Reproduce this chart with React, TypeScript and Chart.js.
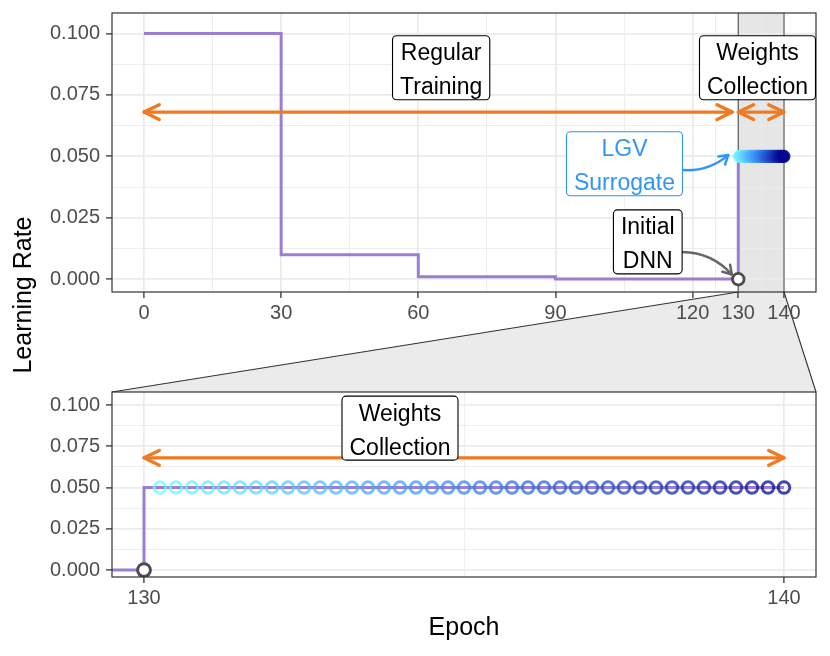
import React, { useEffect, useRef } from 'react';
import { Chart, registerables } from 'chart.js';
Chart.register(...registerables);

const FONT = '"Liberation Sans", Arial, Helvetica, sans-serif';

// ---- data ----
const epochs = [0, 30, 60, 90, 130, 140];
const learningRates = [0.1, 0.01, 0.001, 0.0001, 0.05, 0.05];
const lgvEpochs = [
  130.25, 130.5, 130.75, 131, 131.25, 131.5, 131.75, 132, 132.25, 132.5,
  132.75, 133, 133.25, 133.5, 133.75, 134, 134.25, 134.5, 134.75, 135,
  135.25, 135.5, 135.75, 136, 136.25, 136.5, 136.75, 137, 137.25, 137.5,
  137.75, 138, 138.25, 138.5, 138.75, 139, 139.25, 139.5, 139.75, 140,
];
const lgvRates = [
  0.05, 0.05, 0.05, 0.05, 0.05, 0.05, 0.05, 0.05, 0.05, 0.05,
  0.05, 0.05, 0.05, 0.05, 0.05, 0.05, 0.05, 0.05, 0.05, 0.05,
  0.05, 0.05, 0.05, 0.05, 0.05, 0.05, 0.05, 0.05, 0.05, 0.05,
  0.05, 0.05, 0.05, 0.05, 0.05, 0.05, 0.05, 0.05, 0.05, 0.05,
];
const initialEpoch = [130];
const initialRate = [0];

// ---- ticks ----
const topXMajor = [0, 30, 60, 90, 120, 130, 140];
const topXMinor = [15, 45, 75, 105, 125, 135];
const bottomXMajor = [130, 140];
const bottomXMinor = [135];
const yMajor = [0, 0.025, 0.05, 0.075, 0.1];
const yMajorLabels = ['0.000', '0.025', '0.050', '0.075', '0.100'];
const yMinor = [0.0125, 0.0375, 0.0625, 0.0875];

// ---- annotations ----
const topLabels = [
  { lines: ['Regular', 'Training'], x: 65, y: 0.086, color: '#000000' },
  { lines: ['Weights', 'Collection'], x: 134.2, y: 0.086, color: '#000000' },
  { lines: ['LGV', 'Surrogate'], x: 105.1, y: 0.047, color: '#2F95F8' },
  { lines: ['Initial', 'DNN'], x: 110.2, y: 0.0152, color: '#000000' },
];
const bottomLabels = [
  { lines: ['Weights', 'Collection'], x: 134.0, y: 0.086, color: '#000000' },
];
const topArrows = [
  { x1: 0, x2: 128.7, y: 0.068 },
  { x1: 130, x2: 140, y: 0.068 },
];
const bottomArrows = [{ x1: 130, x2: 140, y: 0.068 }];
const curvedArrows = [
  { x1: 117.9, y1: 0.0444, x2: 127.8, y2: 0.0505, k: 0.2, color: '#2F95F8' },
  { x1: 117.7, y1: 0.0111, x2: 128.6, y2: 0.0019, k: -0.22, color: '#666666' },
];

const ORANGE = '#EF7A22';
const PURPLE = '#9A7ED2';
const LGV_STOPS = [
  [115, 250, 255],
  [55, 130, 245],
  [5, 5, 145],
];

function lgvColor(t: number, a: number) {
  const seg = t < 0.5 ? 0 : 1;
  const lt = t < 0.5 ? t * 2 : (t - 0.5) * 2;
  const c0 = LGV_STOPS[seg];
  const c1 = LGV_STOPS[seg + 1];
  const c = c0.map((v, i) => Math.round(v + (c1[i] - v) * lt));
  return `rgba(${c[0]},${c[1]},${c[2]},${a})`;
}

function xy(xs: number[], ys: number[]) {
  return xs.map((x, i) => ({ x, y: ys[i] }));
}

function isIn(list: number[], v: any) {
  return typeof v === 'number' && list.some((m) => Math.abs(m - v) < 1e-9);
}

function xScale(min: number, max: number, major: number[], minor: number[]) {
  const all = [...major, ...minor].sort((a, b) => a - b);
  return {
    type: 'linear',
    min,
    max,
    afterBuildTicks: (s: any) => {
      s.ticks = all.map((v) => ({ value: v }));
    },
    afterFit: (s: any) => {
      s.height = 40;
      s.paddingLeft = 0;
      s.paddingRight = 0;
    },
    ticks: {
      autoSkip: false,
      maxRotation: 0,
      minRotation: 0,
      padding: 3,
      color: '#4D4D4D',
      font: { family: FONT, size: 20 },
      callback: (v: any) => (isIn(major, v) ? String(v) : ''),
    },
    grid: {
      color: '#EBEBEB',
      lineWidth: (c: any) => (isIn(major, c.tick?.value) ? 1.8 : 0.9),
      tickLength: 6,
      tickWidth: 1.3,
      tickColor: (c: any) => (isIn(major, c.tick?.value) ? '#333333' : 'rgba(0,0,0,0)'),
    },
    border: { display: false },
  };
}

function yScale(min: number, max: number) {
  const all = [...yMajor, ...yMinor].sort((a, b) => a - b);
  return {
    type: 'linear',
    min,
    max,
    afterBuildTicks: (s: any) => {
      s.ticks = all.map((v) => ({ value: v }));
    },
    afterFit: (s: any) => {
      s.width = 112;
      s.paddingTop = 0;
      s.paddingBottom = 0;
    },
    ticks: {
      autoSkip: false,
      padding: 6,
      color: '#4D4D4D',
      font: { family: FONT, size: 20 },
      callback: (v: any) => {
        const i = yMajor.findIndex((m) => Math.abs(m - v) < 1e-9);
        return i >= 0 ? yMajorLabels[i] : '';
      },
    },
    grid: {
      color: '#EBEBEB',
      lineWidth: (c: any) => (isIn(yMajor, c.tick?.value) ? 1.8 : 0.9),
      tickLength: 6,
      tickWidth: 1.3,
      tickColor: (c: any) => (isIn(yMajor, c.tick?.value) ? '#333333' : 'rgba(0,0,0,0)'),
    },
    border: { display: false },
  };
}

function drawHead(ctx: CanvasRenderingContext2D, tx: number, ty: number, ang: number, len: number, spread: number) {
  ctx.beginPath();
  ctx.moveTo(tx - len * Math.cos(ang - spread), ty - len * Math.sin(ang - spread));
  ctx.lineTo(tx, ty);
  ctx.lineTo(tx - len * Math.cos(ang + spread), ty - len * Math.sin(ang + spread));
  ctx.stroke();
}

function drawDoubleArrow(chart: any, a: { x1: number; x2: number; y: number }) {
  const ctx = chart.ctx as CanvasRenderingContext2D;
  const xs = chart.scales.x;
  const ys = chart.scales.y;
  const p1 = xs.getPixelForValue(a.x1);
  const p2 = xs.getPixelForValue(a.x2);
  const py = ys.getPixelForValue(a.y);
  ctx.save();
  ctx.strokeStyle = ORANGE;
  ctx.lineWidth = 3.3;
  ctx.lineCap = 'round';
  ctx.lineJoin = 'round';
  ctx.beginPath();
  ctx.moveTo(p1, py);
  ctx.lineTo(p2, py);
  ctx.stroke();
  drawHead(ctx, p1, py, Math.PI, 17, 0.45);
  drawHead(ctx, p2, py, 0, 17, 0.45);
  ctx.restore();
}

function drawCurved(chart: any, a: any) {
  const ctx = chart.ctx as CanvasRenderingContext2D;
  const xs = chart.scales.x;
  const ys = chart.scales.y;
  const ax = xs.getPixelForValue(a.x1);
  const ay = ys.getPixelForValue(a.y1);
  const bx = xs.getPixelForValue(a.x2);
  const by = ys.getPixelForValue(a.y2);
  const dx = bx - ax;
  const dy = by - ay;
  const L = Math.hypot(dx, dy);
  const nx = -dy / L;
  const ny = dx / L;
  const cx = (ax + bx) / 2 + nx * a.k * L;
  const cy = (ay + by) / 2 + ny * a.k * L;
  ctx.save();
  ctx.strokeStyle = a.color;
  ctx.lineWidth = 2.5;
  ctx.lineCap = 'round';
  ctx.lineJoin = 'round';
  ctx.beginPath();
  ctx.moveTo(ax, ay);
  ctx.quadraticCurveTo(cx, cy, bx, by);
  ctx.stroke();
  drawHead(ctx, bx, by, Math.atan2(by - cy, bx - cx), 10, 0.55);
  ctx.restore();
}

function drawLabel(chart: any, l: any) {
  const ctx = chart.ctx as CanvasRenderingContext2D;
  const cx = chart.scales.x.getPixelForValue(l.x);
  const cy = chart.scales.y.getPixelForValue(l.y);
  ctx.save();
  ctx.font = `23px ${FONT}`;
  const w = Math.max(...l.lines.map((s: string) => ctx.measureText(s).width)) + 15;
  const h = 64;
  ctx.beginPath();
  (ctx as any).roundRect(cx - w / 2, cy - h / 2, w, h, 4);
  ctx.fillStyle = '#ffffff';
  ctx.fill();
  ctx.strokeStyle = l.color;
  ctx.lineWidth = 1.1;
  ctx.stroke();
  ctx.fillStyle = l.color;
  ctx.textAlign = 'center';
  ctx.textBaseline = 'alphabetic';
  ctx.fillText(l.lines[0], cx, cy - 7.5);
  ctx.fillText(l.lines[1], cx, cy + 26.5);
  ctx.restore();
}

function drawPanelBorder(chart: any) {
  const ctx = chart.ctx as CanvasRenderingContext2D;
  const a = chart.chartArea;
  ctx.save();
  ctx.strokeStyle = '#333333';
  ctx.lineWidth = 1.2;
  ctx.strokeRect(a.left, a.top, a.right - a.left, a.bottom - a.top);
  ctx.restore();
}

function lineDataset() {
  return {
    label: 'Learning rate',
    data: xy(epochs, learningRates),
    showLine: true,
    stepped: 'before',
    borderColor: PURPLE,
    borderWidth: 3,
    pointRadius: 0,
    order: 3,
  };
}

function initialDataset(r: number, bw: number) {
  return {
    label: 'Initial DNN',
    data: xy(initialEpoch, initialRate),
    pointRadius: r,
    pointBorderWidth: bw,
    pointBorderColor: '#4D4D4D',
    pointBackgroundColor: '#ffffff',
    order: 1,
  };
}

function makeTopConfig(): any {
  const n = lgvEpochs.length;
  return {
    type: 'scatter',
    data: {
      datasets: [
        lineDataset(),
        {
          label: 'LGV',
          data: xy(lgvEpochs, lgvRates),
          pointRadius: 6.5,
          pointBorderWidth: 0,
          pointBackgroundColor: lgvEpochs.map((_, i) => lgvColor(i / (n - 1), 0.85)),
          order: 2,
        },
        initialDataset(5.8, 2.8),
      ],
    },
    options: {
      animation: false,
      responsive: false,
      events: [],
      layout: { padding: { top: 13, right: 14, bottom: 324, left: 0 } },
      plugins: { legend: { display: false }, tooltip: { enabled: false } },
      scales: { x: xScale(-7, 147, topXMajor, topXMinor), y: yScale(-0.0052, 0.1083) },
    },
    plugins: [
      {
        id: 'topDecor',
        beforeDraw(chart: any) {
          const ctx = chart.ctx;
          const a = chart.chartArea;
          const x1 = chart.scales.x.getPixelForValue(130);
          const x2 = chart.scales.x.getPixelForValue(140);
          ctx.save();
          ctx.fillStyle = '#E6E6E6';
          ctx.fillRect(x1, a.top, x2 - x1, a.bottom - a.top);
          ctx.restore();
        },
        beforeDatasetsDraw(chart: any) {
          const ctx = chart.ctx;
          const a = chart.chartArea;
          ctx.save();
          ctx.strokeStyle = '#555555';
          ctx.lineWidth = 1.1;
          [130, 140].forEach((v) => {
            const px = chart.scales.x.getPixelForValue(v);
            ctx.beginPath();
            ctx.moveTo(px, a.top);
            ctx.lineTo(px, a.bottom);
            ctx.stroke();
          });
          ctx.restore();
        },
        afterDatasetsDraw(chart: any) {
          drawPanelBorder(chart);
          topArrows.forEach((a) => drawDoubleArrow(chart, a));
          curvedArrows.forEach((a) => drawCurved(chart, a));
          topLabels.forEach((l) => drawLabel(chart, l));
        },
      },
    ],
  };
}

function makeBottomConfig(top: any): any {
  const n = lgvEpochs.length;
  return {
    type: 'scatter',
    data: {
      datasets: [
        lineDataset(),
        {
          label: 'LGV',
          data: xy(lgvEpochs, lgvRates),
          pointRadius: 5.8,
          pointBorderWidth: 3,
          pointBackgroundColor: 'rgba(0,0,0,0)',
          pointBorderColor: lgvEpochs.map((_, i) => lgvColor(i / (n - 1), 0.75)),
          order: 2,
        },
        initialDataset(6.4, 3),
      ],
    },
    options: {
      animation: false,
      responsive: false,
      events: [],
      layout: { padding: { top: 392, right: 14, bottom: 39, left: 0 } },
      plugins: { legend: { display: false }, tooltip: { enabled: false } },
      scales: { x: xScale(129.5, 140.5, bottomXMajor, bottomXMinor), y: yScale(-0.0042, 0.1079) },
    },
    plugins: [
      {
        id: 'zoomTrapezoid',
        beforeDraw(chart: any) {
          const ctx = chart.ctx;
          const a = chart.chartArea;
          const tx1 = top.scales.x.getPixelForValue(130);
          const tx2 = top.scales.x.getPixelForValue(140);
          const ty = top.chartArea.bottom;
          ctx.save();
          ctx.beginPath();
          ctx.moveTo(tx1, ty);
          ctx.lineTo(tx2, ty);
          ctx.lineTo(a.right, a.top);
          ctx.lineTo(a.left, a.top);
          ctx.closePath();
          ctx.fillStyle = '#EBEBEB';
          ctx.fill();
          ctx.strokeStyle = '#333333';
          ctx.lineWidth = 1.1;
          ctx.beginPath();
          ctx.moveTo(tx1, ty);
          ctx.lineTo(a.left, a.top);
          ctx.moveTo(tx2, ty);
          ctx.lineTo(a.right, a.top);
          ctx.stroke();
          ctx.fillStyle = '#ffffff';
          ctx.fillRect(a.left, a.top, a.right - a.left, a.bottom - a.top);
          ctx.restore();
        },
        afterDatasetsDraw(chart: any) {
          drawPanelBorder(chart);
          bottomArrows.forEach((a) => drawDoubleArrow(chart, a));
          bottomLabels.forEach((l) => drawLabel(chart, l));
        },
      },
    ],
  };
}

export default function App() {
  const c1 = useRef<HTMLCanvasElement>(null);
  const c2 = useRef<HTMLCanvasElement>(null);
  useEffect(() => {
    const topChart = new Chart(c1.current as HTMLCanvasElement, makeTopConfig());
    const bottomChart = new Chart(c2.current as HTMLCanvasElement, makeBottomConfig(topChart));
    return () => {
      bottomChart.destroy();
      topChart.destroy();
    };
  }, []);
  return (
    <div
      style={{
        position: 'absolute',
        left: 0,
        top: 0,
        width: 830,
        height: 656,
        background: '#ffffff',
        overflow: 'hidden',
        fontFamily: FONT,
      }}
    >
      <canvas ref={c2} width={830} height={656} style={{ position: 'absolute', left: 0, top: 0 }} />
      <canvas ref={c1} width={830} height={656} style={{ position: 'absolute', left: 0, top: 0 }} />
      <div
        style={{
          position: 'absolute',
          left: 22 - 200,
          top: 295 - 15,
          width: 400,
          height: 30,
          lineHeight: '30px',
          fontSize: 25,
          textAlign: 'center',
          color: '#000',
          transform: 'rotate(-90deg)',
          transformOrigin: '50% 50%',
          whiteSpace: 'nowrap',
        }}
      >
        Learning Rate
      </div>
      <div
        style={{
          position: 'absolute',
          left: 112,
          top: 611,
          width: 704,
          height: 30,
          lineHeight: '30px',
          fontSize: 25,
          textAlign: 'center',
          color: '#000',
          whiteSpace: 'nowrap',
        }}
      >
        Epoch
      </div>
    </div>
  );
}
